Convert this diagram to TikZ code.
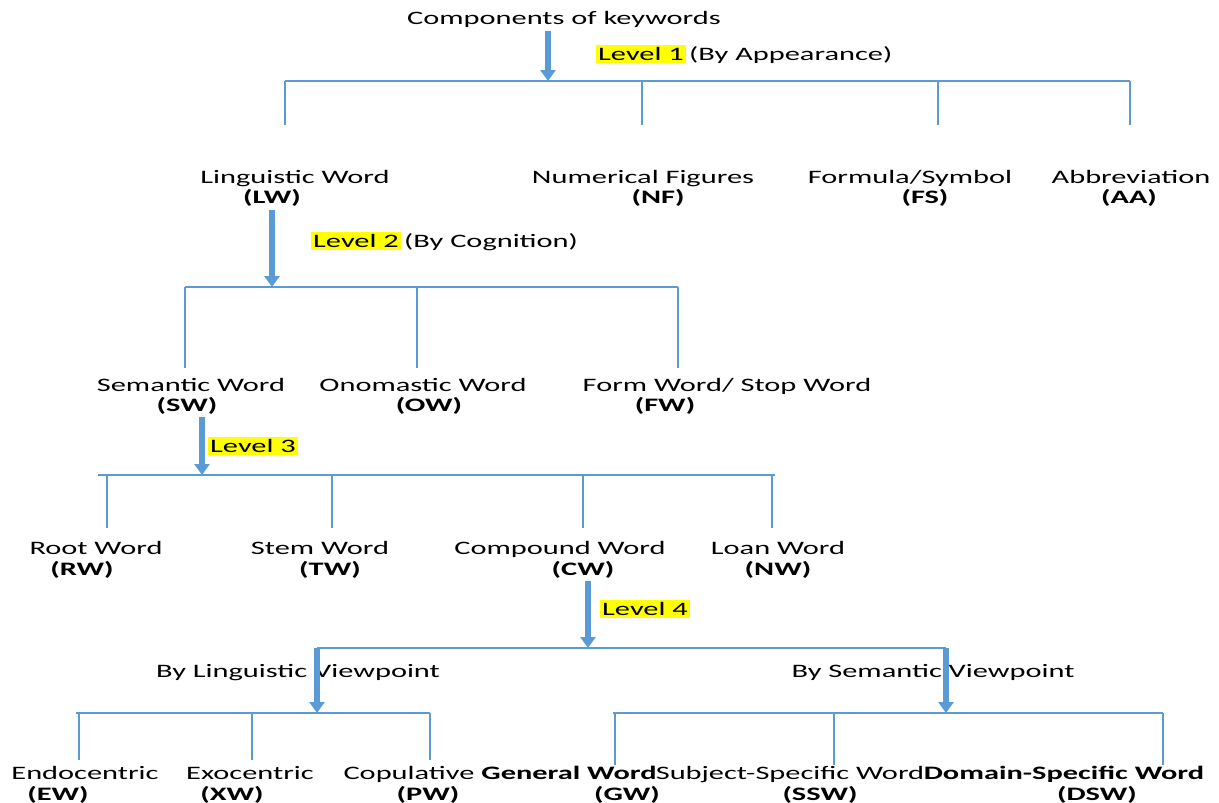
\documentclass[tikz,border=0pt]{standalone}
\usepackage{fontspec}
\setmainfont[FakeStretch=1.6]{Carlito}
\usepackage{tikz}
\usetikzlibrary{arrows.meta,positioning}
\definecolor{linkblue}{HTML}{5B9BD5}
\definecolor{hlyellow}{HTML}{FFFF00}

\begin{document}
\begin{tikzpicture}[x=1pt,y=-1pt,
		txt/.style={font=\fontsize{19pt}{22pt}\selectfont, inner sep=1pt, text height=12pt, text depth=0pt},
		abbr/.style={txt, font=\fontsize{19pt}{22pt}\selectfont\bfseries},
		hl/.style={txt, fill=hlyellow, inner xsep=2pt, inner ysep=3pt},
		branch/.style={linkblue, line width=1.6pt},
		flow/.style={linkblue, line width=5.5pt, -{Triangle[width=15pt,length=11pt]}}]
			\useasboundingbox (0,0) rectangle (1219,803);
			% 标题
			\node[txt] (root) at (564,18.5) {Components of keywords};
			\coordinate (b1) at (548,81);
			\draw[flow] ([yshift=-5pt]root.south -| b1) -- (b1);
			\node[hl] (lv1) at (641,54) {Level 1};
			\node[txt, right=2pt of lv1] (lv1-by) {(By Appearance)};
			% 第一层
			\foreach \id/\tx/\ax/\vx/\name/\ab in {lw/295/272/285/Linguistic Word/LW, nf/643/658/642/Numerical Figures/NF, fs/910/925/938/{Formula/Symbol}/FS, aa/1131/1129/1130/Abbreviation/AA}
			{
			\node[txt] (\id) at (\tx,177.5) {\name};
			\node[abbr] (\id-ab) at (\ax,197.5) {(\ab)};
			\coordinate (\id-in) at (\vx,125);
			\draw[branch] (\id-in |- b1) -- (\id-in);
			}
			\draw[branch] (lw-in |- b1) -- (aa-in |- b1);
			% 第二层
			\coordinate (b2) at (272,287);
			\draw[flow] ([yshift=-5pt]lw-ab.south -| b2) -- (b2);
			\node[hl] (lv2) at (356,241) {Level 2};
			\node[txt, right=2pt of lv2] (lv2-by) {(By Cognition)};
			\foreach \id/\tx/\ax/\vx/\name/\ab in {sw/191/187/185/Semantic Word/SW, ow/423/429/417/Onomastic Word/OW, fw/727/665/678/{Form Word/ Stop Word}/FW}
			{
			\node[txt] (\id) at (\tx,385) {\name};
			\node[abbr] (\id-ab) at (\ax,405) {(\ab)};
			\coordinate (\id-in) at (\vx,368);
			\draw[branch] (\id-in |- b2) -- (\id-in);
			}
			\draw[branch] (sw-in |- b2) -- (fw-in |- b2);
			% 第三层
			\coordinate (b3) at (202,475);
			\draw[flow] ([yshift=-5pt]sw-ab.south -| b3) -- (b3);
			\node[hl] (lv3) at (253,446) {Level 3};
			\foreach \id/\tx/\ax/\vx/\name/\ab in {rw/96/82/107/Root Word/RW, tw/320/330/332/Stem Word/TW, cw/560/583/583/Compound Word/CW, nw/778/778/772/Loan Word/NW}
			{
			\node[txt] (\id) at (\tx,548) {\name};
			\node[abbr] (\id-ab) at (\ax,569) {(\ab)};
			\coordinate (\id-in) at (\vx,528);
			\draw[branch] (\id-in |- b3) -- (\id-in);
			}
			\draw[branch] ([xshift=-9pt]rw-in |- b3) -- ([xshift=3pt]nw-in |- b3);
			% 第四层
			\coordinate (b4) at (588,648);
			\draw[flow] ([yshift=-5pt]cw-ab.south -| b4) -- (b4);
			\node[hl] (lv4) at (645,609) {Level 4};
			\coordinate (b5a) at (317,713);
			\coordinate (b5b) at (946,713);
			\draw[branch] (b5a |- b4) -- (b5b |- b4);
			\node[txt] (lingv) at (298,671) {By Linguistic Viewpoint};
			\node[txt] (semv) at (933,671) {By Semantic Viewpoint};
			\draw[flow] (b5a |- b4) -- (b5a);
			\draw[flow] (b5b |- b4) -- (b5b);
			% 第五层
			\foreach \id/\tx/\ax/\vx/\name/\ab in {ew/85/58/79/Endocentric/EW, xw/250/232/252/Exocentric/XW, pw/409/428/430/Copulative/PW}
			{
			\node[txt] (\id) at (\tx,773) {\name};
			\node[abbr] (\id-ab) at (\ax,794) {(\ab)};
			\coordinate (\id-in) at (\vx,760);
			\draw[branch] (\id-in |- b5a) -- (\id-in);
			}
			\draw[branch] ([xshift=-3pt]ew-in |- b5a) -- (pw-in |- b5a);
			\foreach \id/\tx/\ax/\vx/\name/\ab in {gw/569/627/615/{\bfseries General Word}/GW, ssw/790/820/834/Subject-Specific Word/SSW, dsw/1064/1097/1163/{\bfseries Domain-Specific Word}/DSW}
			{
			\node[txt] (\id) at (\tx,773) {\name};
			\node[abbr] (\id-ab) at (\ax,794) {(\ab)};
			\coordinate (\id-in) at (\vx,765);
			\draw[branch] (\id-in |- b5b) -- (\id-in);
			}
			\draw[branch] ([xshift=-2pt]gw-in |- b5b) -- (dsw-in |- b5b);
		\end{tikzpicture}
\end{document}
